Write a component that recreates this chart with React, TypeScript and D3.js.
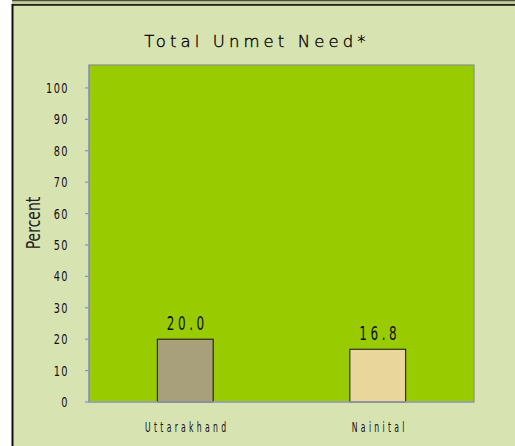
import React from "react";
import * as d3 from "d3";

const categories = ["Uttarakhand", "Nainital"];
const values = [20.0, 16.8];
const valueLabels = ["20.0", "16.8"];
const barColors = ["#a89f7b", "#e8d69a"];
const yTicks = [0, 10, 20, 30, 40, 50, 60, 70, 80, 90, 100];
const title = "Total Unmet Need*";
const yTitle = "Percent";

const W = 515;
const H = 446;
const plot = { left: 89, right: 474, top: 65, bottom: 402 };
const font = "'DejaVu Sans', sans-serif";

export default function App() {
  const x = d3.scaleBand<string>().domain(categories).range([plot.left, plot.right]).padding(0);
  const y = d3.scaleLinear().domain([0, 107.3]).range([plot.bottom, plot.top]);
  const barW = x.bandwidth() * 0.29;

  return (
    <svg
      width={W}
      height={H}
      style={{ position: "fixed", left: 0, top: 0, display: "block" }}
    >
      <rect x={0} y={0} width={W} height={H} fill="#ffffff" />
      <rect x={12} y={0} width={W - 12} height={H} fill="#d8e3b2" />
      <rect x={12} y={0} width={W - 12} height={1.5} fill="#4a4f40" />
      <rect x={12} y={1.5} width={W - 12} height={2.5} fill="#c4cc9c" />
      <rect x={12} y={4} width={W - 12} height={1.8} fill="#1e2416" />
      <rect x={11.5} y={4} width={2} height={H - 4} fill="#111" />

      <text
        x={257}
        y={47}
        textAnchor="middle"
        fontFamily={font}
        fontWeight={200}
        fontSize={16.5}
        letterSpacing={4.1}
        fill="#000"
        stroke="#000"
        strokeWidth={0.35}
      >
        {title}
      </text>

      <rect
        x={plot.left}
        y={plot.top}
        width={plot.right - plot.left}
        height={plot.bottom - plot.top}
        fill="#99cc00"
        stroke="#8a8f8a"
        strokeWidth={1.2}
      />

      {categories.map((c, i) => {
        const cx = (x(c) as number) + x.bandwidth() / 2;
        return (
          <g key={c}>
            <rect
              x={cx - barW / 2}
              y={y(values[i])}
              width={barW}
              height={y(0) - y(values[i])}
              fill={barColors[i]}
              stroke="#111"
              strokeWidth={1}
            />
            <text
              transform={`translate(${cx + 2}, ${y(values[i]) - 9}) scale(0.6, 1)`}
              textAnchor="middle"
              fontFamily={font}
              fontSize={20}
              letterSpacing={6}
              fill="#111"
            >
              {valueLabels[i]}
            </text>
            <text
              transform={`translate(${cx + 2}, 432) scale(0.55, 1)`}
              textAnchor="middle"
              fontFamily={font}
              fontSize={14}
              letterSpacing={6}
              fill="#111"
            >
              {c}
            </text>
          </g>
        );
      })}

      <line x1={plot.left} x2={plot.left} y1={plot.top} y2={plot.bottom} stroke="#8c8ce0" strokeWidth={1.2} />
      <line x1={plot.left} x2={plot.right} y1={plot.bottom} y2={plot.bottom} stroke="#9aa0b8" strokeWidth={1.5} />

      {yTicks.map((t) => (
        <g key={t}>
          <line x1={plot.left - 4} x2={plot.left} y1={y(t)} y2={y(t)} stroke="#8c8ce0" strokeWidth={1.2} />
          <text
            transform={`translate(69, ${y(t) + 5}) scale(0.7, 1)`}
            textAnchor="end"
            fontFamily={font}
            fontSize={14}
            letterSpacing={2}
            fill="#111"
          >
            {t}
          </text>
        </g>
      ))}

      <text
        transform={`translate(40, 223) rotate(-90) scale(0.7, 1)`}
        textAnchor="middle"
        fontFamily={font}
        fontSize={20}
        fill="#222"
      >
        {yTitle}
      </text>
    </svg>
  );
}
